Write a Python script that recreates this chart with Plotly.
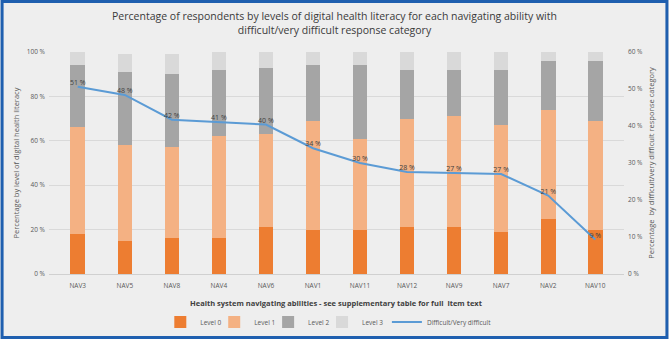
import plotly.graph_objects as go

categories = ["NAV3", "NAV5", "NAV8", "NAV4", "NAV6", "NAV1", "NAV11", "NAV12", "NAV9", "NAV7", "NAV2", "NAV10"]
level0 = [18, 15, 16, 16, 21, 20, 20, 21, 21, 19, 25, 20]
level1 = [48, 43, 41, 46, 42, 49, 41, 49, 50, 48, 49, 49]
level2 = [28, 33, 33, 30, 30, 25, 33, 22, 21, 25, 22, 27]
level3 = [6, 8, 9, 8, 7, 6, 6, 8, 8, 8, 4, 4]
difficult = [50.6, 48.4, 41.7, 41.1, 40.4, 34.0, 30.0, 27.6, 27.4, 27.0, 21.2, 9.3]

W, H = 669, 339
ml, mr, mt, mb = 48.5, 44.5, 52, 65
pw, ph = W - ml - mr, H - mt - mb

FONT = "Open Sans"
TXT = "#595959"

legend_px = [160, 214, 268, 322, 387]   # left edge of each legend entry (pixels)
legend_names = ["legend", "legend2", "legend3", "legend4", "legend5"]

fig = go.Figure()
series = [("Level 0", level0, "#ED7D31"), ("Level 1", level1, "#F4B183"),
          ("Level 2", level2, "#A5A5A5"), ("Level 3", level3, "#D9D9D9")]
for i, (name, vals, col) in enumerate(series):
    fig.add_trace(go.Bar(x=categories, y=vals, name=name, marker=dict(color=col, line=dict(width=0)),
                         hoverinfo="skip", legend=legend_names[i]))

fig.add_trace(go.Scatter(x=categories, y=difficult, name="Difficult/Very difficult", yaxis="y2",
                         mode="lines+text", line=dict(color="#5B9BD5", width=2),
                         text=[f"{round(v)} %" for v in difficult], textposition="top center",
                         textfont=dict(size=7, color="#404040", family=FONT), legend="legend5"))

leg_common = dict(orientation="h", xanchor="left", yanchor="middle", y=-(322 - (H - mb)) / ph,
                  font=dict(size=6.5), itemwidth=30, bgcolor="rgba(0,0,0,0)", borderwidth=0)
legends = {}
for i, ln in enumerate(legend_names):
    legends[ln] = dict(leg_common, x=(legend_px[i] - ml) / pw)

fig.update_layout(
    width=W, height=H,
    margin=dict(l=ml, r=mr, t=mt, b=mb, autoexpand=False),
    paper_bgcolor="#EEEEEE", plot_bgcolor="#EEEEEE",
    barmode="stack", bargap=0.69,
    font=dict(family=FONT, color=TXT, size=7),
    title=dict(text="Percentage of respondents by levels of digital health literacy for each navigating ability with<br>difficult/very difficult response category",
               x=0.5, xanchor="center", y=1 - 20 / H, yanchor="middle",
               font=dict(size=10.5, color="#3A3A3A", family=FONT)),
    xaxis=dict(showgrid=False, showline=True, linecolor="#D0D0D0", ticks="", tickfont=dict(size=6.5),
               ticklabelstandoff=5),
    yaxis=dict(range=[0, 100], dtick=20, ticksuffix=" %", gridcolor="#D9D9D9", zeroline=False,
               tickfont=dict(size=6.5), ticklabelstandoff=3,
               title=dict(text="Percentage by level of digital health literacy", font=dict(size=7.5), standoff=6)),
    yaxis2=dict(range=[0, 60], dtick=10, ticksuffix=" %", overlaying="y", side="right", showgrid=False,
                zeroline=False, tickfont=dict(size=6.5), ticklabelstandoff=3,
                title=dict(text="Percentage  by difficult/very difficult response category", font=dict(size=7.5), standoff=6)),
    showlegend=True,
    **legends,
)

# x-axis title as annotation for precise placement
fig.add_annotation(text="<b>Health system navigating abilities - see supplementary table for full  item text</b>",
                   xref="paper", yref="paper", x=0.5, xanchor="center",
                   y=-(303 - (H - mb)) / ph, yanchor="middle", showarrow=False,
                   font=dict(size=7.5, color="#404040", family=FONT))

# outer frame
fig.add_shape(type="rect", xref="paper", yref="paper",
              x0=(1.5 - ml) / pw, x1=(W - 1.5 - ml) / pw,
              y0=-(mb - 1.5) / ph, y1=(H - 1.5 - mb) / ph,
              line=dict(color="#1F5FAF", width=3), layer="above")

fig.write_html("out.html", config={"displayModeBar": False},
               post_script="document.body.style.margin='0';document.body.style.overflow='hidden';")
